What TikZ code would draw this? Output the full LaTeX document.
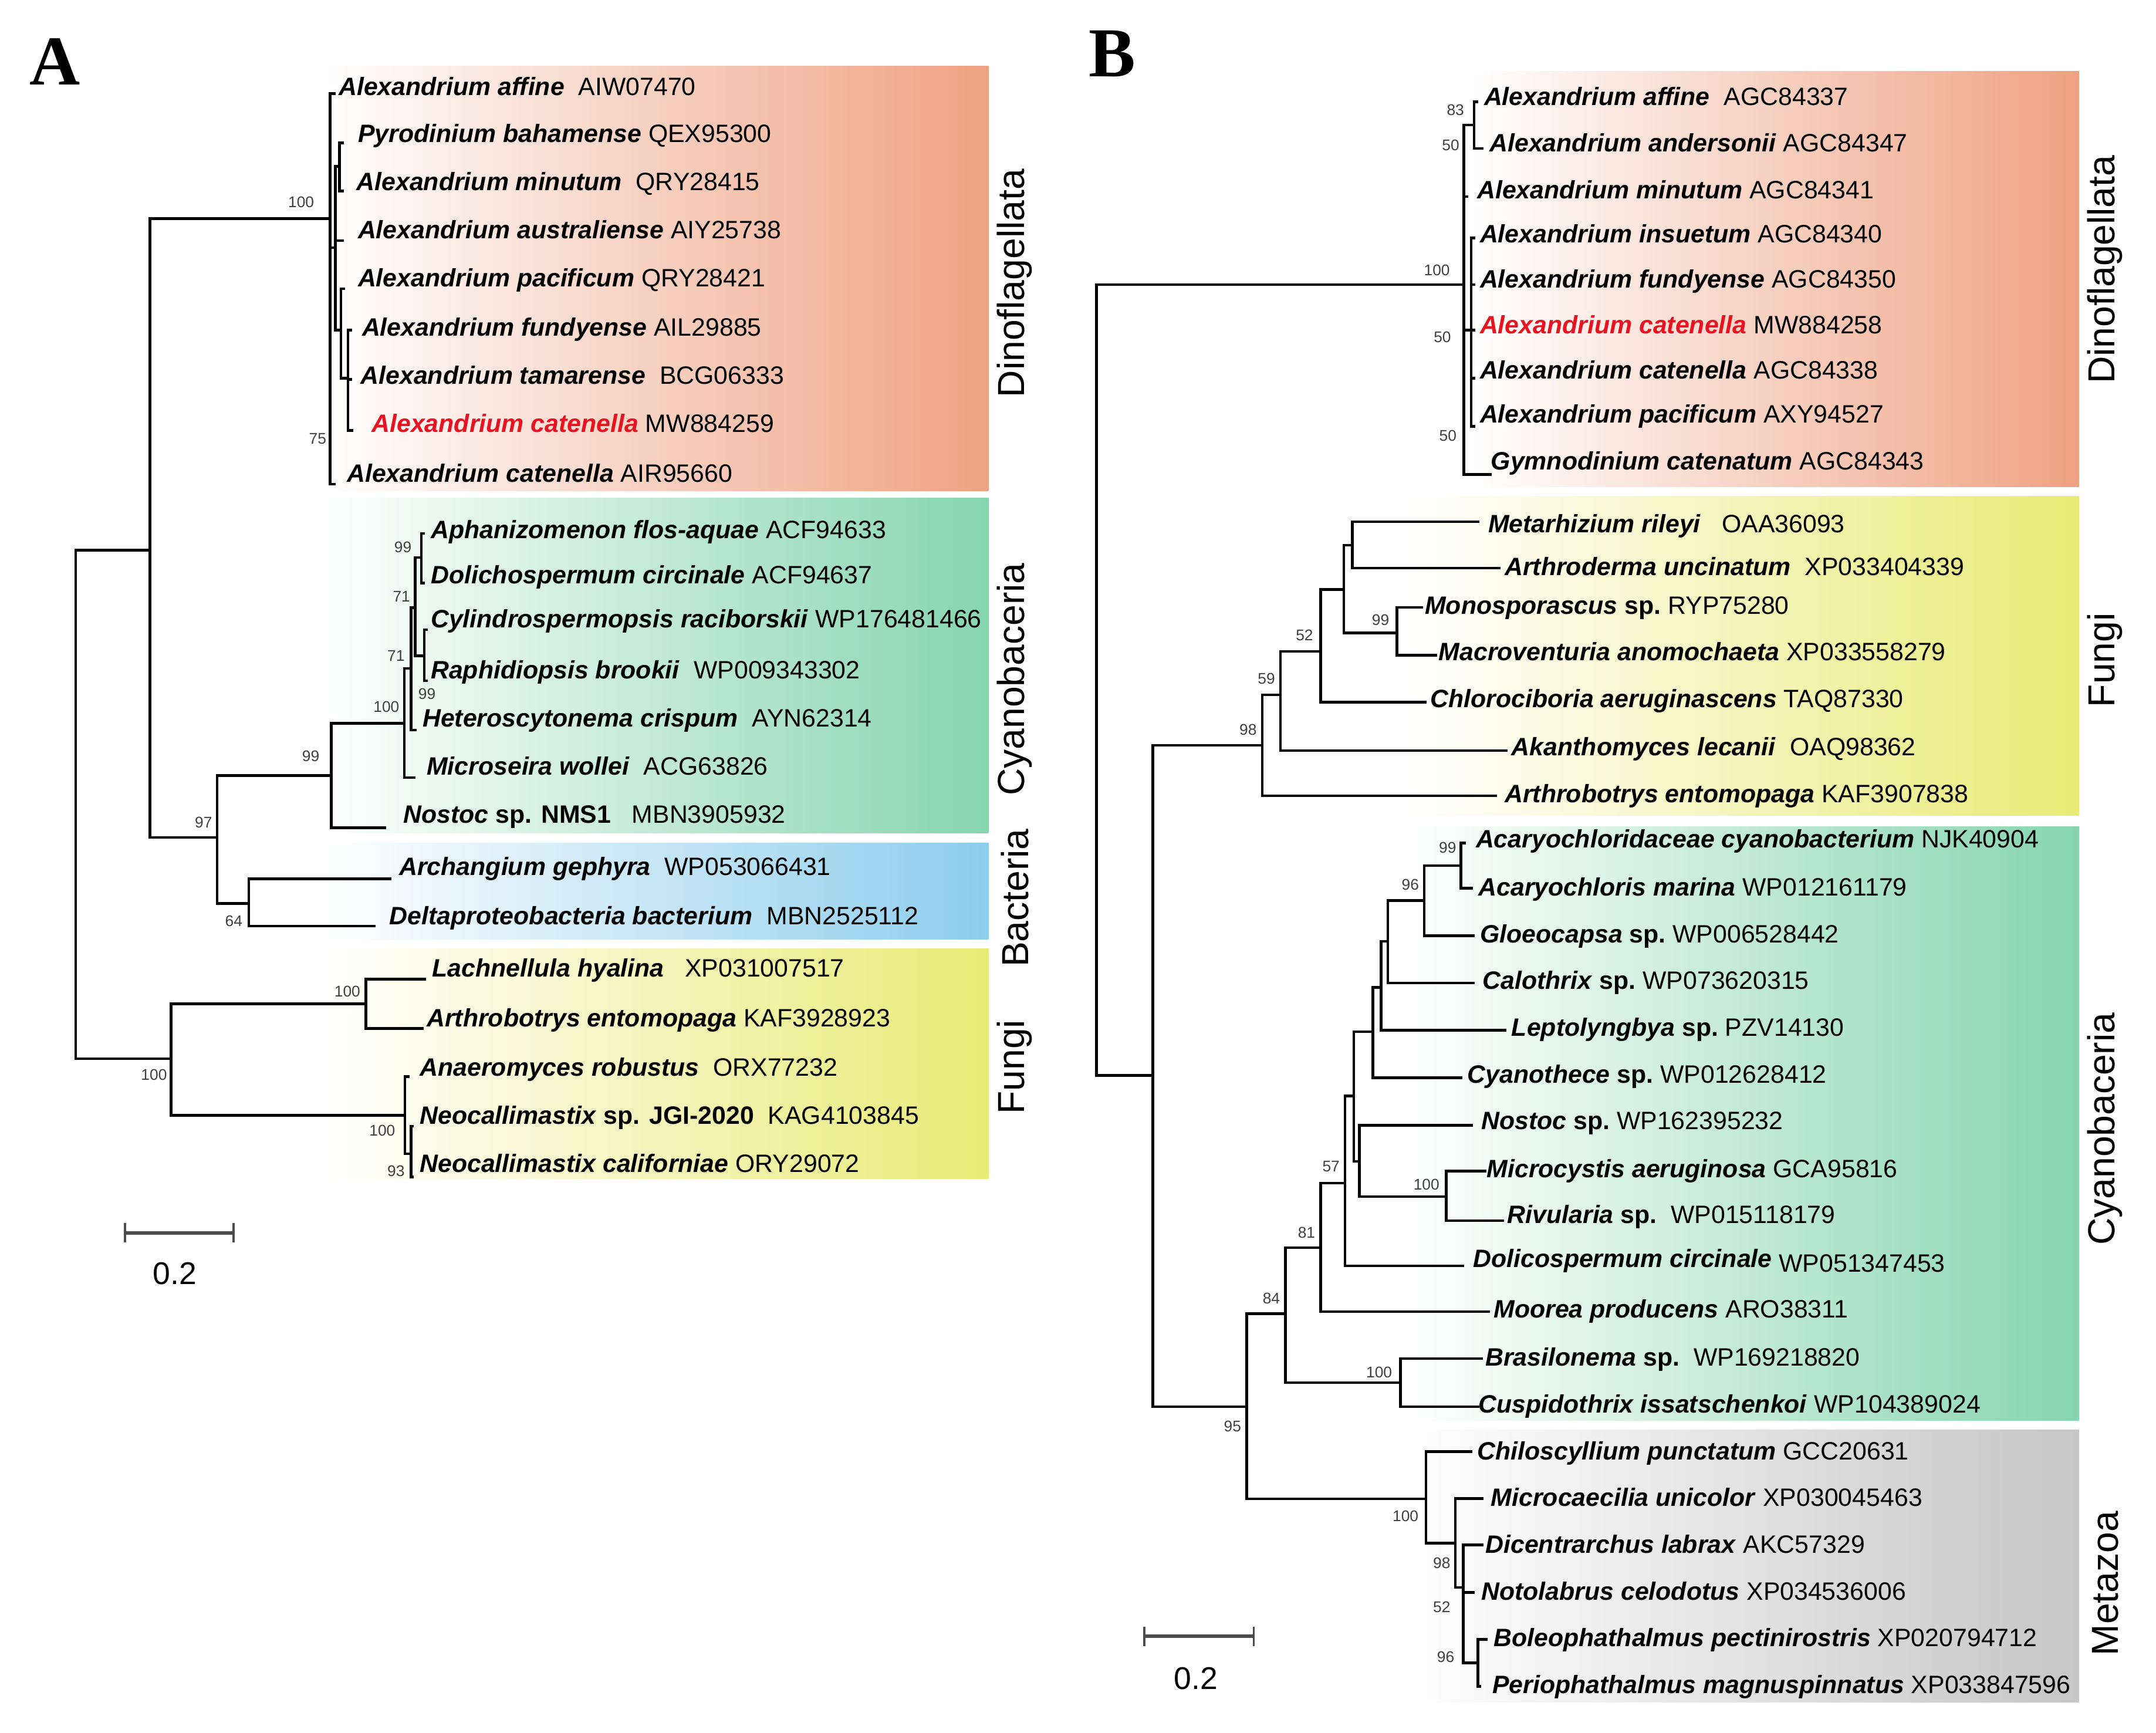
\documentclass[tikz,border=0pt]{standalone}
\usepackage{fontspec}
\setmainfont{Liberation Sans}
\newfontfamily\panelfont{Liberation Serif}

\definecolor{dinoC}{RGB}{239,161,130}
\definecolor{cyanoC}{RGB}{134,213,175}
\definecolor{bactC}{RGB}{141,205,237}
\definecolor{fungiC}{RGB}{233,235,118}
\definecolor{metaC}{RGB}{198,198,198}
\definecolor{hiRed}{RGB}{230,20,35}

\newcommand{\sn}[2]{\textbf{\textit{#1}}\ #2}
\newcommand{\snsp}[3]{\textbf{\textit{#1} #2}\ #3}

\tikzset{
  br/.style={line width=1.1pt},
  lab/.style={anchor=west, inner sep=0pt, text height=7.4pt, text depth=0pt,
    font=\fontsize{10.4}{12}\selectfont},
  bs/.style={inner sep=0pt, text=black!75, font=\fontsize{6.4}{7}\selectfont},
  grp/.style={rotate=90, inner sep=0pt, font=\fontsize{15.6}{18}\selectfont},
  clade/.style={left color=white, right color=#1},
  scalebar/.style={line width=1.4pt, black!70},
}

\begin{document}
\begin{tikzpicture}[x=0.2mm, y=-0.2mm]
  \useasboundingbox (0,0) rectangle (1568,1260);

  % coloured clade boxes
  \path[clade=dinoC]  (236,48) rectangle (719,357);
  \path[clade=cyanoC] (236,362) rectangle (719,606);
  \path[clade=bactC]  (236,613) rectangle (719,683);
  \path[clade=fungiC] (236,690) rectangle (719,857);
  \path[clade=dinoC]  (1070,52) rectangle (1512,354);
  \path[clade=fungiC] (1025,361) rectangle (1512,593);
  \path[clade=cyanoC] (1025,601) rectangle (1512,1033);
  \path[clade=metaC]  (1025,1040) rectangle (1512,1238);

  \node[font=\panelfont\bfseries\fontsize{29}{30}\selectfont, inner sep=0pt] (pA) at (40,45) {A};
  \node[font=\panelfont\bfseries\fontsize{29}{30}\selectfont, inner sep=0pt] (pB) at (809,39) {B};

  % tree A
  \coordinate (rA) at (55,585);
  \coordinate (nA1) at (109,400);
  \coordinate (nAD) at (240,159);
  \coordinate (nD1) at (244,180);
  \coordinate (nD2) at (247,121);
  \coordinate (nD3) at (248,240);
  \coordinate (nD4) at (253,275);
  \coordinate (n97) at (158,609);
  \coordinate (n99) at (241,564);
  \coordinate (n100) at (294,526);
  \coordinate (n71b) at (299,486);
  \coordinate (n71a) at (302,442);
  \coordinate (n99a) at (306.5,405.5);
  \coordinate (n99b) at (308.6,477);
  \coordinate (nBa) at (181,657);
  \coordinate (nAF) at (124.5,770);
  \coordinate (nF1) at (266,730);
  \coordinate (nF2) at (294.5,811);
  \coordinate (nF3) at (299,839);
  \coordinate (dAff) at (244,68);   \coordinate (dPyr) at (250,104);
  \coordinate (dMin) at (250,139);  \coordinate (dAus) at (250,175);
  \coordinate (dPac) at (251,210);  \coordinate (dFun) at (256,240);
  \coordinate (dTam) at (256,276);  \coordinate (dCatR) at (257,313);
  \coordinate (dCatB) at (244,352);
  \coordinate (dAph) at (309,388);  \coordinate (dDol) at (309,424);
  \coordinate (dCyl) at (311,458);  \coordinate (dRap) at (311,495);
  \coordinate (dHet) at (303,531);  \coordinate (dMic) at (302,565.5);
  \coordinate (dNos) at (281,602);
  \coordinate (dArc) at (284.6,639); \coordinate (dDel) at (273,673.5);
  \coordinate (dLac) at (310,712);  \coordinate (dArt) at (308,748);
  \coordinate (dAna) at (298,783);  \coordinate (dNe1) at (301,819);
  \coordinate (dNe2) at (301,856);

  \foreach \p/\c in {rA/nA1, rA/nAF, nA1/nAD, nA1/n97, nAD/dAff, nAD/nD1, nAD/dCatB,
      nD1/nD2, nD1/dAus, nD1/nD3, nD2/dPyr, nD2/dMin, nD3/dPac, nD3/nD4,
      nD4/dFun, nD4/dTam, nD4/dCatR, n97/n99, n97/nBa, n99/n100, n99/dNos,
      n100/n71b, n100/dMic, n71b/n71a, n71b/dHet, n71a/n99a, n71a/n99b,
      n99a/dAph, n99a/dDol, n99b/dCyl, n99b/dRap, nBa/dArc, nBa/dDel,
      nAF/nF1, nAF/nF2, nF1/dLac, nF1/dArt, nF2/dAna, nF2/nF3, nF3/dNe1, nF3/dNe2}
    \draw[br] (\p) |- (\c);

  \node[lab] (tAff) at (246,63) {\sn{Alexandrium affine}{\ AIW07470}};
  \node[lab] (tPyr) at (260,97) {\sn{Pyrodinium bahamense}{QEX95300}};
  \node[lab] (tMin) at (259,132) {\sn{Alexandrium minutum}{\ QRY28415}};
  \node[lab] (tAus) at (260,167) {\sn{Alexandrium australiense}{AIY25738}};
  \node[lab] (tPac) at (260,202) {\sn{Alexandrium pacificum}{QRY28421}};
  \node[lab] (tFun) at (263,238) {\sn{Alexandrium fundyense}{AIL29885}};
  \node[lab] (tTam) at (262,273) {\sn{Alexandrium tamarense}{\ BCG06333}};
  \node[lab] (tCatR) at (270,308) {\textcolor{hiRed}{\textbf{\textit{Alexandrium catenella}}}\ MW884259};
  \node[lab] (tCatB) at (252,344) {\sn{Alexandrium catenella}{AIR95660}};
  \node[lab] (tAph) at (313,385) {\sn{Aphanizomenon flos-aquae}{ACF94633}};
  \node[lab] (tDol) at (313,418) {\sn{Dolichospermum circinale}{ACF94637}};
  \node[lab] (tCyl) at (313,450) {\sn{Cylindrospermopsis raciborskii}{WP176481466}};
  \node[lab] (tRap) at (313,487) {\sn{Raphidiopsis brookii}{\ WP009343302}};
  \node[lab] (tHet) at (307,522) {\sn{Heteroscytonema crispum}{\ AYN62314}};
  \node[lab] (tMic) at (310,557) {\sn{Microseira wollei}{\ ACG63826}};
  \node[lab] (tNos) at (293,592) {\snsp{Nostoc}{sp. NMS1}{\ \ MBN3905932}};
  \node[lab] (tArc) at (290,630) {\sn{Archangium gephyra}{\ WP053066431}};
  \node[lab] (tDel) at (283,666) {\sn{Deltaproteobacteria bacterium}{\ MBN2525112}};
  \node[lab] (tLac) at (314,704) {\sn{Lachnellula hyalina}{\ \ XP031007517}};
  \node[lab] (tArt) at (310,740) {\sn{Arthrobotrys entomopaga}{KAF3928923}};
  \node[lab] (tAna) at (305,776) {\sn{Anaeromyces robustus}{\ ORX77232}};
  \node[lab] (tNe1) at (305,811) {\snsp{Neocallimastix}{sp. JGI-2020}{\ KAG4103845}};
  \node[lab] (tNe2) at (305,846) {\sn{Neocallimastix californiae}{ORY29072}};

  \foreach \x/\y/\v [count=\i] in {219/147/100, 231/319/75, 293/398/99, 292/434/71,
      288/477/71, 310.5/504.5/99, 281/514/100, 226/550/99, 148/598/97, 170/669.6/64,
      252.6/721/100, 112/781.5/100, 278/822/100, 288/851.5/93}
    \node[bs] (bA\i) at (\x,\y) {\v};

  \node[grp] (gAD) at (738,206) {Dinoflagellata};
  \node[grp] (gAC) at (738,494) {Cyanobaceria};
  \node[grp] (gAB) at (738,653) {Bacteria};
  \node[grp] (gAF) at (738,776) {Fungi};

  \coordinate (sA1) at (91,896.5);
  \coordinate (sA2) at (170,896.5);
  \draw[scalebar] (sA1) -- (sA2);
  \draw[scalebar, line width=0.9pt] ([yshift=1.4mm]sA1) -- ([yshift=-1.4mm]sA1);
  \draw[scalebar, line width=0.9pt] ([yshift=1.4mm]sA2) -- ([yshift=-1.4mm]sA2);
  \node[font=\fontsize{13}{14}\selectfont, inner sep=0pt] (sAt) at (127,926) {0.2};

  % tree B
  \coordinate (rB) at (797.5,494.5);
  \coordinate (bD0) at (1064.5,207);
  \coordinate (bD1) at (1072,91);
  \coordinate (bD2) at (1070,240);
  \coordinate (bN2) at (838.4,782);
  \coordinate (bF) at (918,542);
  \coordinate (b59) at (931.3,505.3);
  \coordinate (b52) at (960.5,473.7);
  \coordinate (bF1) at (977.4,428.6);
  \coordinate (bF2) at (983.6,396.4);
  \coordinate (b99f) at (1015.9,460.2);
  \coordinate (b95) at (906.6,1023);
  \coordinate (b84) at (934.8,955.4);
  \coordinate (bBC) at (1018.4,1005.5);
  \coordinate (b81) at (960.5,907.4);
  \coordinate (b57) at (978.1,860.4);
  \coordinate (bCa) at (984.5,797);
  \coordinate (bCn) at (988.7,844.5);
  \coordinate (bMR) at (1051.7,870.2);
  \coordinate (bCb) at (998.4,750.2);
  \coordinate (bCc) at (1004.4,718.1);
  \coordinate (bCd) at (1009.4,684.5);
  \coordinate (b96) at (1035.7,655);
  \coordinate (b99c) at (1062.4,629.5);
  \coordinate (bM) at (1037.1,1090);
  \coordinate (b98) at (1058.5,1122.2);
  \coordinate (b52m) at (1064.2,1154.5);
  \coordinate (b96m) at (1074.8,1209.3);
  \coordinate (eAff) at (1075,74);    \coordinate (eAnd) at (1079,108);
  \coordinate (eMin) at (1068,143);   \coordinate (eIns) at (1073,173);
  \coordinate (eFun) at (1073,207);   \coordinate (eCatR) at (1073,240);
  \coordinate (eCat) at (1073,275);   \coordinate (ePac) at (1073,310);
  \coordinate (eGym) at (1085,345);
  \coordinate (eMet) at (1075.9,379.5);  \coordinate (eArd) at (1091.2,413.2);
  \coordinate (eMon) at (1034.8,441.8);  \coordinate (eMac) at (1045.1,476.4);
  \coordinate (eChl) at (1037.4,510.7);  \coordinate (eAka) at (1096.4,545.9);
  \coordinate (eArb) at (1088.7,578.8);
  \coordinate (eAc1) at (1066.3,613.1);  \coordinate (eAc2) at (1071.3,645.9);
  \coordinate (eGlo) at (1072.7,680.4);  \coordinate (eCal) at (1072.7,714.9);
  \coordinate (eLep) at (1095.4,749.3);  \coordinate (eCyt) at (1063.4,783.8);
  \coordinate (eNos) at (1071.3,818.3);  \coordinate (eMcy) at (1081,851.6);
  \coordinate (eRiv) at (1093.8,887.7);  \coordinate (eDol) at (1064.6,920.5);
  \coordinate (eMoo) at (1083.5,953.8);  \coordinate (eBra) at (1078.4,987.9);
  \coordinate (eCus) at (1075.8,1023);
  \coordinate (eChi) at (1070.6,1055.6); \coordinate (eMcc) at (1079.1,1089.7);
  \coordinate (eDic) at (1079.1,1123.6); \coordinate (eNot) at (1072.7,1158);
  \coordinate (eBol) at (1082,1192.2);   \coordinate (ePer) at (1077,1226.3);

  \foreach \p/\c in {rB/bD0, rB/bN2, bD0/bD1, bD0/eMin, bD0/bD2, bD0/eGym,
      bD1/eAff, bD1/eAnd, bD2/eIns, bD2/eFun, bD2/eCatR, bD2/eCat, bD2/ePac,
      bN2/bF, bN2/b95, bF/b59, bF/eArb, b59/b52, b59/eAka, b52/bF1, b52/eChl,
      bF1/bF2, bF1/b99f, bF2/eMet, bF2/eArd, b99f/eMon, b99f/eMac,
      b95/b84, b95/bM, b84/b81, b84/bBC, bBC/eBra, bBC/eCus, b81/b57, b81/eMoo,
      b57/bCa, b57/eDol, bCa/bCb, bCa/bCn, bCn/eNos, bCn/bMR, bMR/eMcy, bMR/eRiv,
      bCb/bCc, bCb/eCyt, bCc/bCd, bCc/eLep, bCd/b96, bCd/eCal, b96/b99c, b96/eGlo,
      b99c/eAc1, b99c/eAc2, bM/eChi, bM/b98, b98/eMcc, b98/b52m,
      b52m/eDic, b52m/eNot, b52m/b96m, b96m/eBol, b96m/ePer}
    \draw[br] (\p) |- (\c);

  \node[lab] (uAff) at (1079,70) {\sn{Alexandrium affine}{\ AGC84337}};
  \node[lab] (uAnd) at (1083,104) {\sn{Alexandrium andersonii}{AGC84347}};
  \node[lab] (uMin) at (1074,138) {\sn{Alexandrium minutum}{AGC84341}};
  \node[lab] (uIns) at (1076,170) {\sn{Alexandrium insuetum}{AGC84340}};
  \node[lab] (uFun) at (1076,203) {\sn{Alexandrium fundyense}{AGC84350}};
  \node[lab] (uCatR) at (1076,236) {\textcolor{hiRed}{\textbf{\textit{Alexandrium catenella}}}\ MW884258};
  \node[lab] (uCat) at (1076,269) {\sn{Alexandrium catenella}{AGC84338}};
  \node[lab] (uPac) at (1076,301) {\sn{Alexandrium pacificum}{AXY94527}};
  \node[lab] (uGym) at (1084,335) {\sn{Gymnodinium catenatum}{AGC84343}};
  \node[lab] (uMet) at (1082,381) {\sn{Metarhizium rileyi}{\ \ OAA36093}};
  \node[lab] (uArd) at (1094,412) {\sn{Arthroderma uncinatum}{\ XP033404339}};
  \node[lab] (uMon) at (1036,440) {\snsp{Monosporascus}{sp.}{RYP75280}};
  \node[lab] (uMac) at (1046,474) {\sn{Macroventuria anomochaeta}{XP033558279}};
  \node[lab] (uChl) at (1040,508) {\sn{Chlorociboria aeruginascens}{TAQ87330}};
  \node[lab] (uAka) at (1099,543) {\sn{Akanthomyces lecanii}{\ OAQ98362}};
  \node[lab] (uArb) at (1094,577) {\sn{Arthrobotrys entomopaga}{KAF3907838}};
  \node[lab] (uAc1) at (1073,610) {\sn{Acaryochloridaceae cyanobacterium}{NJK40904}};
  \node[lab] (uAc2) at (1075,645) {\sn{Acaryochloris marina}{WP012161179}};
  \node[lab] (uGlo) at (1076,679) {\snsp{Gloeocapsa}{sp.}{WP006528442}};
  \node[lab] (uCal) at (1078,713) {\snsp{Calothrix}{sp.}{WP073620315}};
  \node[lab] (uLep) at (1099,747) {\snsp{Leptolyngbya}{sp.}{PZV14130}};
  \node[lab] (uCyt) at (1067,781) {\snsp{Cyanothece}{sp.}{WP012628412}};
  \node[lab] (uNos) at (1077,815) {\snsp{Nostoc}{sp.}{WP162395232}};
  \node[lab] (uMcy) at (1081,850) {\sn{Microcystis aeruginosa}{GCA95816}};
  \node[lab] (uRiv) at (1096,883) {\snsp{Rivularia}{sp.}{\ WP015118179}};
  \node[lab] (uDol) at (1071,915) {\sn{Dolicospermum circinale}{}\raisebox{-2pt}{WP051347453}};
  \node[lab] (uMoo) at (1086,952) {\sn{Moorea producens}{ARO38311}};
  \node[lab] (uBra) at (1080,987) {\snsp{Brasilonema}{sp.}{\ WP169218820}};
  \node[lab] (uCus) at (1075,1021) {\sn{Cuspidothrix issatschenkoi}{WP104389024}};
  \node[lab] (uChi) at (1074,1055) {\sn{Chiloscyllium punctatum}{GCC20631}};
  \node[lab] (uMcc) at (1084,1089) {\sn{Microcaecilia unicolor}{XP030045463}};
  \node[lab] (uDic) at (1080,1123) {\sn{Dicentrarchus labrax}{AKC57329}};
  \node[lab] (uNot) at (1077,1157) {\sn{Notolabrus celodotus}{XP034536006}};
  \node[lab] (uBol) at (1086,1191) {\sn{Boleophathalmus pectinirostris}{XP020794712}};
  \node[lab] (uPer) at (1085,1225) {\sn{Periophathalmus magnuspinnatus}{XP033847596}};

  \foreach \x/\y/\v [count=\i] in {1058.5/79.8/83, 1055/105.5/50, 1045/196.5/100,
      1049/245/50, 1053/317/50, 1004/451/99, 948.7/462/52, 921/493.6/59,
      907.7/530.6/98, 1052.8/616.4/99, 1025.7/643.5/96, 968/848.4/57,
      1037.4/861.5/100, 950.2/896.5/81, 924.6/944/84, 1003/997.8/100,
      896.4/1037.3/95, 1022.2/1102.5/100, 1048.5/1136.7/98, 1048.5/1168.7/52,
      1051.4/1205/96}
    \node[bs] (bB\i) at (\x,\y) {\v};

  \node[grp] (gBD) at (1531,196) {Dinoflagellata};
  \node[grp] (gBF) at (1531,480) {Fungi};
  \node[grp] (gBC) at (1531,821) {Cyanobaceria};
  \node[grp] (gBM) at (1531,1151.5) {Metazoa};

  \coordinate (sB1) at (832.3,1190);
  \coordinate (sB2) at (911.8,1190);
  \draw[scalebar] (sB1) -- (sB2);
  \draw[scalebar, line width=0.9pt] ([yshift=1.4mm]sB1) -- ([yshift=-1.4mm]sB1);
  \draw[scalebar, line width=0.9pt] ([yshift=1.4mm]sB2) -- ([yshift=-1.4mm]sB2);
  \node[font=\fontsize{13}{14}\selectfont, inner sep=0pt] (sBt) at (869.7,1220.8) {0.2};
\end{tikzpicture}
\end{document}
